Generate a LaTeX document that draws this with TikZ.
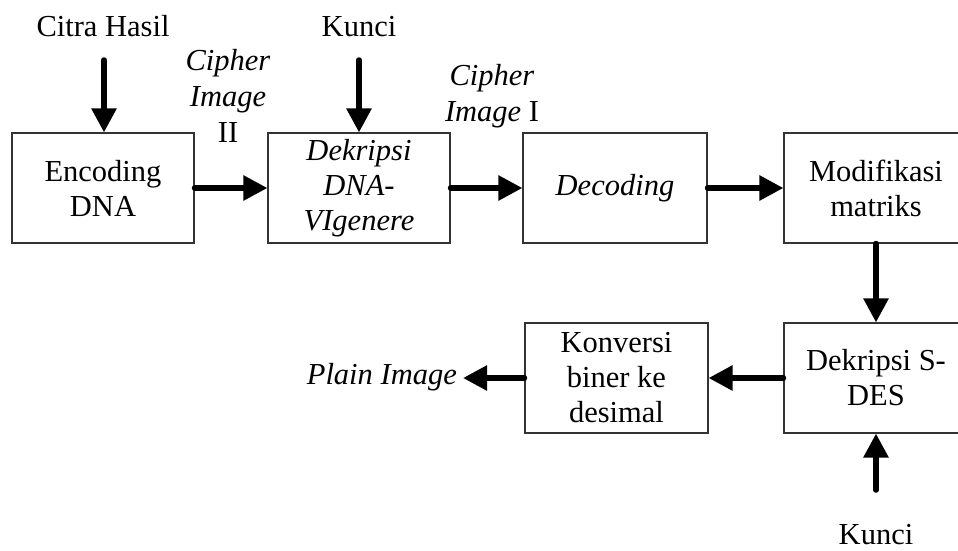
\documentclass[tikz,border=0pt]{standalone}
\usepackage{fontspec}
\setmainfont{Liberation Serif}
\usetikzlibrary{arrows.meta}
\begin{document}
\begin{tikzpicture}[x=1pt,y=-1pt,
  box/.style={draw=black!80, line width=1.1pt, minimum width=182pt, minimum height=110pt, inner sep=0pt, align=center, font=\fontsize{30.5}{35}\selectfont},
  lbl/.style={inner sep=0pt, align=center, font=\fontsize{30.5}{36}\selectfont},
  arr/.style={line width=5.5pt, line cap=round, -{Triangle[length=24pt,width=24pt]}}]
\useasboundingbox[fill=white] (0,0) rectangle (958,550);
% boxes
\node[box] (b1) at (103,188) {Encoding\\DNA};
\node[box] (b2) at (359,188) {\textit{Dekripsi}\\\textit{DNA-}\\\textit{VIgenere}};
\node[box, minimum width=184pt] (b3) at (615,188) {\textit{Decoding}};
\node[box, minimum width=184pt] (b4) at (876,188) {Modifikasi\\matriks};
\node[box, minimum width=184pt] (b5) at (876,378) {Dekripsi S-\\DES};
\node[box, minimum width=183pt] (b6) at (616.5,378) {Konversi\\biner ke\\desimal};
% labels
\node[lbl, anchor=base] (citra) at (103,36) {Citra Hasil};
\node[lbl, anchor=base] (k1) at (359,36) {Kunci};
\node[lbl, anchor=base] (k2) at (876,544) {Kunci};
\node[lbl, anchor=base] (ci2) at (228,142) {\textit{Cipher}\\\textit{Image}\\II};
\node[lbl, anchor=base] (ci1) at (492,121) {\textit{Cipher}\\\textit{Image} I};
\node[lbl, anchor=east] (plain) at (457,377) {\textit{Plain Image}};
% free ends
\coordinate (c1) at (104,60);
\coordinate (c2) at (359,60);
\coordinate (c3) at (876,490);
% connectors
\draw[arr] (c1) -- (b1.north -| c1);
\draw[arr] (c2) -- (b2.north);
\draw[arr] (b1.east) -- (b2.west);
\draw[arr] (b2.east) -- (b3.west);
\draw[arr] (b3.east) -- (b4.west);
\draw[arr] (b4.south) -- (b5.north);
\draw[arr] (c3) -- (b5.south);
\draw[arr] (b5.west) -- (b6.east);
\draw[arr] (b6.west) -- ([xshift=6pt]plain.east |- b6.west);
\end{tikzpicture}
\end{document}
